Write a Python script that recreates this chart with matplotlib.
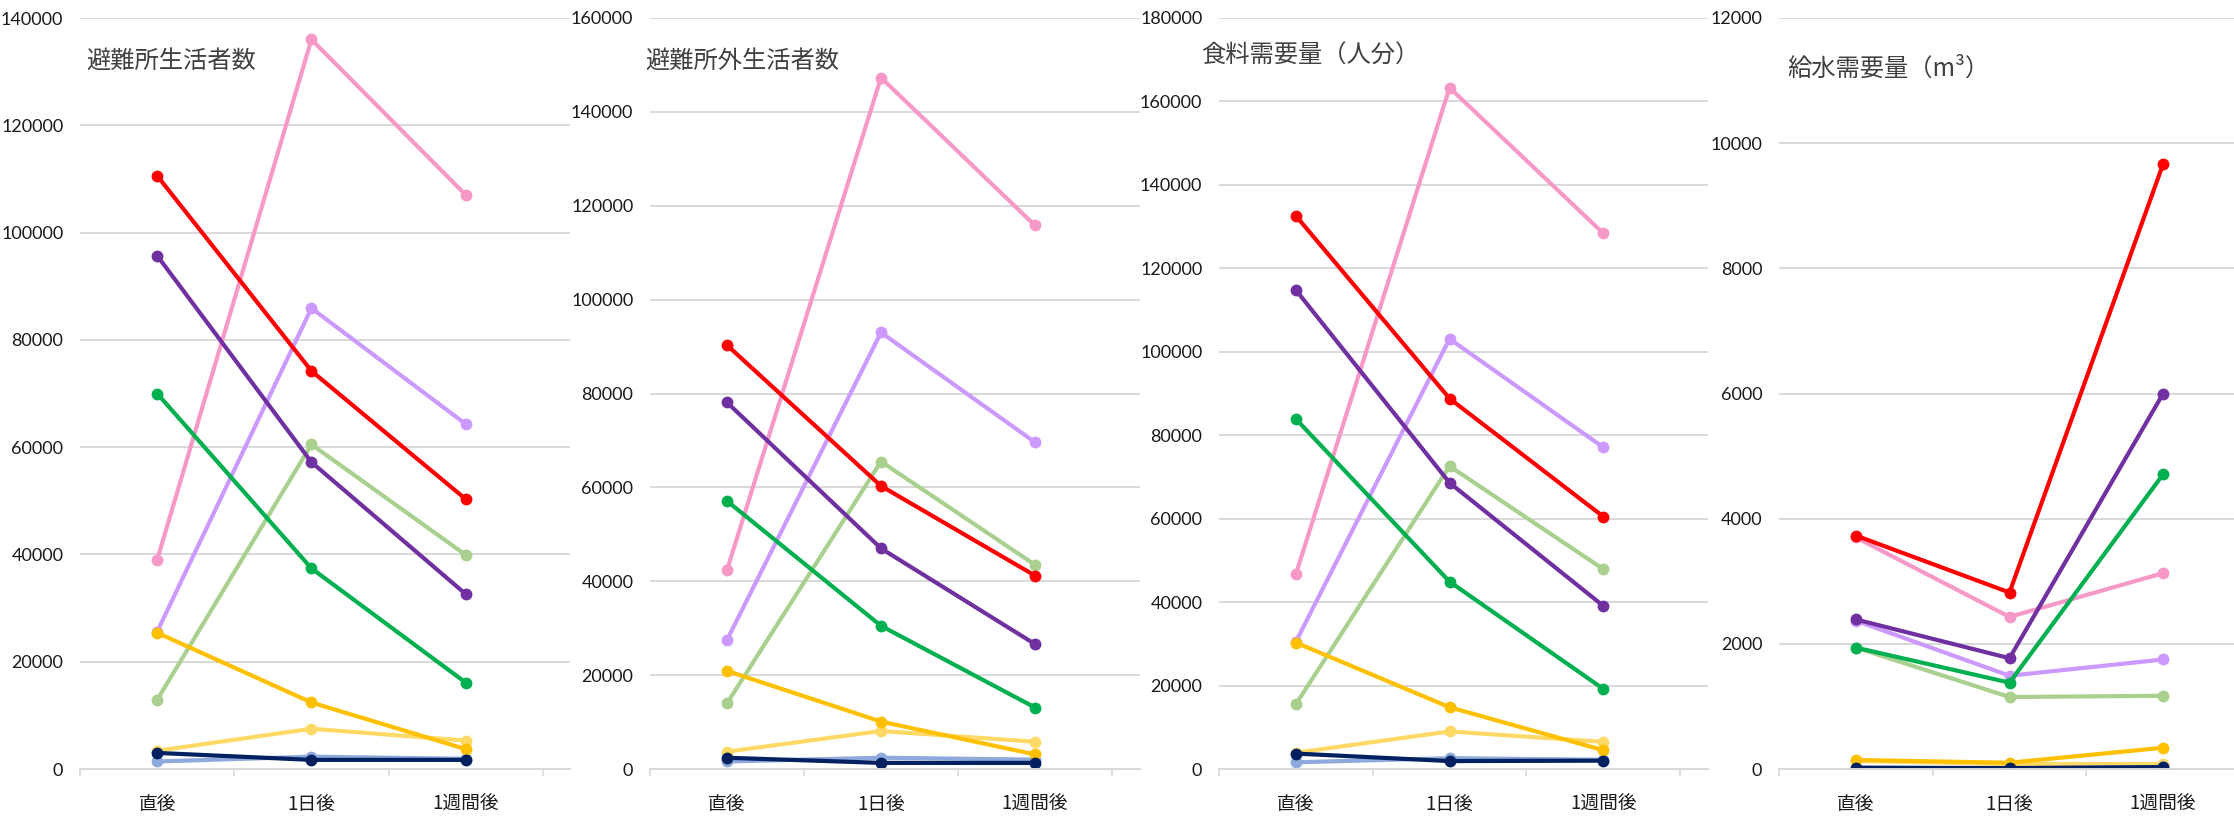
import matplotlib
matplotlib.use('Agg')
import matplotlib.pyplot as plt
from matplotlib.ticker import FixedLocator, FuncFormatter


categories = ['直後', '1日後', '1週間後']

# series order: pink, light purple, light green, light yellow, light blue,
#               red, purple, green, orange, navy
series_colors = ['#F799C8', '#CC99FF', '#A9D08E', '#FFD966', '#8EA9DB',
                 '#FF0000', '#7030A0', '#00B050', '#FFC000', '#002060']

shelter = [
    [39000, 136000, 107000],
    [25600, 85900, 64300],
    [12900, 60500, 39900],
    [3400, 7500, 5300],
    [1400, 2300, 1900],
    [110600, 74200, 50300],
    [95700, 57200, 32600],
    [70000, 37400, 16100],
    [25400, 12400, 3700],
    [3000, 1700, 1700],
]

outside = [
    [42400, 147300, 115800],
    [27500, 93000, 69600],
    [14000, 65500, 43500],
    [3700, 8100, 5800],
    [1600, 2400, 2000],
    [90300, 60300, 41200],
    [78100, 47000, 26600],
    [57100, 30500, 13100],
    [20900, 10100, 3100],
    [2400, 1300, 1300],
]

food = [
    [46700, 163300, 128400],
    [30500, 103100, 77100],
    [15500, 72600, 47900],
    [3900, 9000, 6500],
    [1600, 2600, 2200],
    [132600, 88800, 60500],
    [114800, 68600, 39100],
    [83900, 44900, 19200],
    [30300, 14800, 4500],
    [3700, 1900, 2000],
]

water = [
    [3700, 2430, 3130],
    [2370, 1490, 1750],
    [1940, 1150, 1170],
    [130, 80, 80],
    [20, 10, 30],
    [3730, 2820, 9670],
    [2390, 1770, 6000],
    [1940, 1380, 4710],
    [144, 100, 340],
    [20, 15, 30],
]

titles = ['避難所生活者数', '避難所外生活者数', '食料需要量（人分）', '給水需要量（m³）']
y_max = [140000, 160000, 180000, 12000]
y_step = [20000, 20000, 20000, 2000]
panel_data = [shelter, outside, food, water]

W, H = 2234, 819
# pixel layout: (axes left, axes right, category step, title x, title y)
layout = [
    (80, 570, 154.3, 86, 61),
    (650, 1140, 154.0, 645, 61),
    (1219, 1708, 153.7, 1201, 56),
    (1779, 2240, 155.5, 1787, 69),
]
GRID = '#D9D9D9'
JP = ['Noto Sans CJK JP', 'DejaVu Sans']
NUM = ['Lato', 'Noto Sans CJK JP', 'DejaVu Sans']

fig = plt.figure(figsize=(W / 100, H / 100), dpi=100)

for k, data in enumerate(panel_data):
    left, right, step, tx, ty = layout[k]
    ax = fig.add_axes([left / W, (H - 769) / H, (right - left) / W, 751 / H])
    ax.patch.set_alpha(0)

    x = list(range(len(categories)))
    for vals, col in zip(data, series_colors):
        ax.plot(x, vals, color=col, linewidth=3.0, marker='o', markersize=7.5,
                solid_capstyle='round', solid_joinstyle='round')

    ax.set_xlim(-0.5, -0.5 + (right - left) / step)
    ax.set_ylim(0, y_max[k])

    ax.yaxis.set_major_locator(FixedLocator(range(0, y_max[k] + 1, y_step[k])))
    ax.yaxis.set_major_formatter(FuncFormatter(lambda v, p: '{:d}'.format(int(v))))
    ax.yaxis.grid(True, color=GRID, linewidth=1.4)
    ax.set_axisbelow(True)
    ax.tick_params(axis='y', length=0, pad=12, labelsize=13, labelcolor='#1a1a1a')
    for lab in ax.get_yticklabels():
        lab.set_family(NUM)

    ax.set_xticks(x)
    ax.set_xticklabels(categories, family=JP, fontsize=13.5, color='#1a1a1a')
    ax.set_xticks([-0.5, 0.5, 1.5, 2.5], minor=True)
    ax.tick_params(axis='x', which='major', length=0, pad=18)
    ax.tick_params(axis='x', which='minor', length=5, width=1.2, color=GRID)

    for side in ['top', 'right', 'left']:
        ax.spines[side].set_visible(False)
    ax.spines['bottom'].set_color(GRID)
    ax.spines['bottom'].set_linewidth(1.4)

    fig.text(tx / W, 1 - ty / H, titles[k], family=JP, fontsize=17.5,
             color='#404040', ha='left', va='center')

fig.savefig('out.png', dpi=100, facecolor='white')
